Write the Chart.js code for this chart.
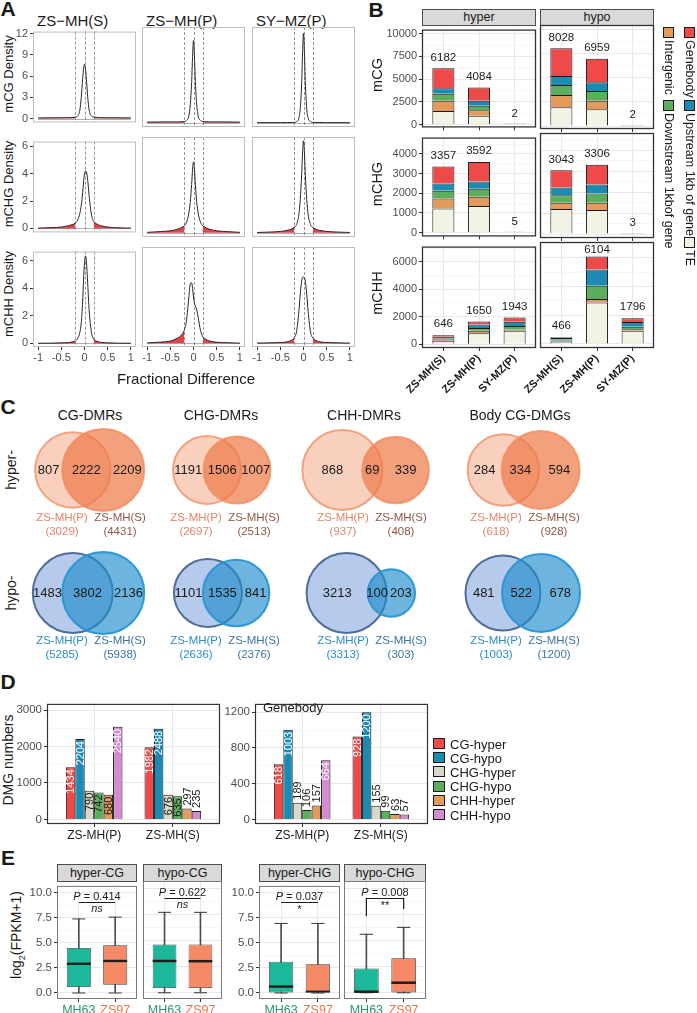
<!DOCTYPE html>
<html>
<head>
<meta charset="utf-8">
<script src="https://cdn.jsdelivr.net/npm/chart.js@4.4.1/dist/chart.umd.min.js"></script>
<style>
  body { margin: 0; background: #fff; }
  #fig { position: relative; width: 697px; height: 1013px; overflow: hidden;
         font-family: 'Liberation Sans', Arial, Helvetica, sans-serif; color: #1a1a1a; }
  #fig canvas { position: absolute; }
  .t { position: absolute; white-space: nowrap; line-height: 1; }
  .sq { position: absolute; box-sizing: border-box; border: 1.3px solid #1a1a1a; }
  .strip { position: absolute; box-sizing: border-box; background: #d9d9d9; border: 1px solid #4d4d4d;
           text-align: center; color: #1a1a1a; }
</style>
</head>
<body>
<div id="fig"></div>
<script>
/* =====================================================
   DMR / DMG FIGURE — panels A to E drawn with Chart.js
   ===================================================== */

/* ─── PANEL A: DENSITY OF FRACTIONAL DIFFERENCE ─── */
const DENS_X  = [-1, -0.7, -0.5, -0.35, -0.25, -0.2, -0.15, -0.1, -0.07, -0.04, -0.02, 0,
                 0.02, 0.04, 0.07, 0.1, 0.15, 0.2, 0.25, 0.35, 0.5, 0.7, 1];
const MCG_S   = [0.08, 0.1, 0.1, 0.12, 0.15, 0.2, 0.35, 1.2, 3.0, 5.6, 7.0, 7.7, 7.1, 5.7, 3.0, 1.2, 0.35, 0.2, 0.15, 0.12, 0.1, 0.1, 0.08];
const MCG_P   = [0.08, 0.1, 0.1, 0.1, 0.12, 0.15, 0.3, 0.9, 2.3, 5.2, 8.5, 10.6, 8.6, 5.3, 2.3, 0.9, 0.3, 0.15, 0.12, 0.1, 0.1, 0.1, 0.08];
const MCG_SY  = [0.01, 0.01, 0.01, 0.02, 0.03, 0.05, 0.15, 0.6, 1.8, 5.0, 9.0, 11.5, 9.0, 5.0, 1.8, 0.6, 0.15, 0.05, 0.03, 0.02, 0.01, 0.01, 0.01];
const MCHG_S  = [0.02, 0.06, 0.1, 0.2, 0.3, 0.38, 0.6, 1.1, 1.7, 2.6, 3.4, 4.0, 4.2, 4.15, 3.5, 2.4, 1.0, 0.5, 0.35, 0.2, 0.1, 0.05, 0.02];
const MCHG_P  = [0.02, 0.07, 0.12, 0.22, 0.35, 0.45, 0.7, 1.3, 2.0, 3.2, 4.2, 4.7, 4.2, 3.2, 2.0, 1.3, 0.7, 0.45, 0.35, 0.22, 0.12, 0.07, 0.02];
const MCHG_SY = [0.01, 0.04, 0.08, 0.15, 0.25, 0.35, 0.55, 1.2, 2.2, 3.8, 5.3, 6.1, 5.3, 3.8, 2.2, 1.2, 0.55, 0.35, 0.25, 0.15, 0.08, 0.04, 0.01];
const MCHH_S  = [0.01, 0.02, 0.04, 0.06, 0.12, 0.18, 0.35, 0.8, 1.5, 3.0, 4.6, 5.9, 6.35, 6.0, 4.3, 2.4, 0.8, 0.3, 0.18, 0.08, 0.04, 0.02, 0.01];
const MCHH_P  = [0.02, 0.08, 0.15, 0.35, 0.6, 0.9, 1.6, 3.2, 4.1, 4.2, 3.8, 3.2, 2.8, 2.6, 2.3, 1.8, 0.9, 0.45, 0.3, 0.15, 0.07, 0.04, 0.01];
const MCHH_SY = [0.01, 0.03, 0.05, 0.1, 0.22, 0.38, 0.8, 2.2, 3.4, 4.3, 4.55, 4.6, 4.55, 4.3, 3.4, 2.2, 0.8, 0.38, 0.22, 0.1, 0.05, 0.03, 0.01];
const CUTOFFS = [-0.2, 0, 0.2];
const A_COLS  = ['ZS−MH(S)', 'ZS−MH(P)', 'SY−MZ(P)'];
const A_ROWS  = ['mCG Density', 'mCHG Density', 'mCHH Density'];
const A_XTICKS = [-1, -0.5, 0, 0.5, 1];
const A_YTICKS = [[0, 3, 6, 9, 12], [0, 2, 4, 6], [0, 2, 4, 6]];

/* ─── PANEL B: DMR COUNTS BY FEATURE (segments bottom → top) ─── */
const B_SAMPLES  = ['ZS-MH(S)', 'ZS-MH(P)', 'SY-MZ(P)'];
const B_FEATURES = ['TE', 'Intergenic', 'Downstream 1kbof gene', 'Upstream 1kb of gene', 'Genebody'];
const CG_HYPER   = [[1480, 1135, 765, 620, 2182], [960, 620, 490, 545, 1469], [2, 0, 0, 0, 0]];
const CG_HYPO    = [[1930, 1270, 1036, 929, 2863], [1725, 890, 1001, 899, 2444], [2, 0, 0, 0, 0]];
const CHG_HYPER  = [[1224, 506, 400, 360, 867], [1350, 474, 400, 376, 992], [5, 0, 0, 0, 0]];
const CHG_HYPO   = [[1190, 300, 367, 367, 819], [1143, 347, 448, 429, 939], [3, 0, 0, 0, 0]];
const CHH_HYPER  = [[250, 60, 100, 130, 106], [790, 185, 210, 255, 210], [975, 70, 280, 300, 318]];
const CHH_HYPO   = [[180, 40, 70, 130, 46], [2900, 230, 930, 1140, 904], [930, 95, 180, 328, 263]];
const B_CONTEXTS = ['mCG', 'mCHG', 'mCHH'];
const B_DIRS     = ['hyper', 'hypo'];
const B_YTICKS   = [[0, 2500, 5000, 7500, 10000], [0, 1000, 2000, 3000, 4000], [0, 2000, 4000, 6000]];

/* ─── PANEL C: VENN COUNTS [only P, shared, only S] ─── */
const VENN_SETS  = ['CG-DMRs', 'CHG-DMRs', 'CHH-DMRs', 'Body CG-DMGs'];
const VENN_HYPER = [[807, 2222, 2209], [1191, 1506, 1007], [868, 69, 339], [284, 334, 594]];
const VENN_HYPO  = [[1483, 3802, 2136], [1101, 1535, 841], [3213, 100, 203], [481, 522, 678]];
const VENN_NAMES = ['ZS-MH(P)', 'ZS-MH(S)'];

/* ─── PANEL D: DMG NUMBERS ─── */
const D_SERIES   = ['CG-hyper', 'CG-hypo', 'CHG-hyper', 'CHG-hypo', 'CHH-hyper', 'CHH-hypo'];
const D_GROUPS   = ['ZS-MH(P)', 'ZS-MH(S)'];
const DMG_ALL_P  = [1434, 2204, 790, 742, 680, 2540];
const DMG_ALL_S  = [1982, 2488, 676, 635, 297, 235];
const DMG_BODY_P = [618, 1003, 189, 106, 157, 664];
const DMG_BODY_S = [928, 1200, 155, 99, 63, 57];
const D_YTICKS   = [[0, 1000, 2000, 3000], [0, 400, 800, 1200]];

/* ─── PANEL E: EXPRESSION BOXPLOTS [min, q1, median, q3, max] ─── */
const E_FACETS      = ['hyper-CG', 'hypo-CG', 'hyper-CHG', 'hypo-CHG'];
const E_GENOS       = ['MH63', 'ZS97'];
const BOX_HYPER_CG  = [[0, 0.6, 2.92, 4.5, 7.4], [0, 0.83, 3.2, 4.78, 7.58]];
const BOX_HYPO_CG   = [[0, 0.45, 3.04, 4.62, 7.7], [0, 0.45, 3.02, 4.62, 7.7]];
const BOX_HYPER_CHG = [[0, 0, 0.64, 3.13, 6.95], [0, 0, 0.12, 2.87, 6.95]];
const BOX_HYPO_CHG  = [[0, 0, 0.1, 2.33, 5.6], [0, 0.03, 0.96, 3.3, 6.26]];
const E_PVALS       = ['0.414', '0.622', '0.037', '0.008'];
const E_SIGNIF      = ['ns', 'ns', '*', '**'];
const E_YTICKS      = [0, 2.5, 5, 7.5, 10];

/* ─── STYLE ─── */
const FONT = "'Liberation Sans', Arial, Helvetica, sans-serif";
const FEATURE_COLORS = ['#f2f2e5', '#e29a5d', '#5cae5c', '#1b8bb3', '#ee4a4a'];
const SERIES_COLORS  = ['#ee4a4a', '#1b8bb3', '#d9d9ca', '#5cae5c', '#e29a5d', '#d58ccd'];
const SERIES_TEXT    = ['#fff', '#fff', '#1a1a1a', '#1a1a1a', '#1a1a1a', '#fff'];
const GENO_FILL      = ['#1db79a', '#f68a66'];
const GENO_TEXT      = ['#2a9473', '#ec7548'];

Chart.defaults.font.family = FONT;
Chart.defaults.color = '#4d4d4d';
Chart.defaults.animation = false;
Chart.defaults.responsive = false;
Chart.defaults.maintainAspectRatio = false;
Chart.defaults.devicePixelRatio = 1;
Chart.defaults.plugins.legend.display = false;
Chart.defaults.plugins.tooltip.enabled = false;

const fig = document.getElementById('fig');

/* ─── PLUGINS ─── */
const framePlugin = {
  id: 'frame',
  defaults: { color: null, width: 1 },
  afterDatasetsDraw(chart, args, o) {
    if (!o.color) return;
    const a = chart.chartArea, ctx = chart.ctx;
    ctx.save();
    ctx.strokeStyle = o.color;
    ctx.lineWidth = o.width;
    ctx.strokeRect(a.left + 0.5, a.top + 0.5, a.width - 1, a.height - 1);
    ctx.restore();
  }
};

const cutoffPlugin = {
  id: 'cutoffs',
  defaults: { values: null },
  beforeDatasetsDraw(chart, args, o) {
    if (!o.values) return;
    const { ctx, chartArea: a, scales: { x, y } } = chart;
    ctx.save();
    ctx.strokeStyle = '#b0b0b0';
    ctx.lineWidth = 1;
    const y0 = Math.round(y.getPixelForValue(0)) + 0.5;
    ctx.beginPath();
    ctx.moveTo(x.getPixelForValue(-1), y0);
    ctx.lineTo(x.getPixelForValue(1), y0);
    ctx.stroke();
    ctx.strokeStyle = '#7a7a7a';
    ctx.lineWidth = 0.8;
    ctx.setLineDash([3, 2]);
    o.values.forEach(v => {
      const px = Math.round(x.getPixelForValue(v)) + 0.5;
      ctx.beginPath();
      ctx.moveTo(px, a.top);
      ctx.lineTo(px, a.bottom);
      ctx.stroke();
    });
    ctx.restore();
  }
};

const totalsPlugin = {
  id: 'totals',
  defaults: { show: false },
  afterDatasetsDraw(chart, args, o) {
    if (!o.show) return;
    const { ctx, chartArea: a, scales: { y } } = chart;
    const ds = chart.data.datasets;
    const top = chart.getDatasetMeta(ds.length - 1);
    ctx.save();
    ctx.font = `11.5px ${FONT}`;
    ctx.fillStyle = '#1a1a1a';
    ctx.textAlign = 'center';
    ctx.textBaseline = 'middle';
    top.data.forEach((el, i) => {
      const total = ds.reduce((s, d) => s + d.data[i].y, 0);
      const py = Math.max(y.getPixelForValue(total) - 11, a.top + 8);
      ctx.fillText(String(total), el.x, py);
    });
    ctx.restore();
  }
};

const barTextPlugin = {
  id: 'barText',
  defaults: { colors: null },
  afterDatasetsDraw(chart, args, o) {
    if (!o.colors) return;
    const ctx = chart.ctx;
    ctx.save();
    ctx.font = `11px ${FONT}`;
    ctx.textBaseline = 'middle';
    chart.data.datasets.forEach((ds, di) => {
      chart.getDatasetMeta(di).data.forEach((el, i) => {
        const label = String(ds.data[i].y);
        const inside = el.base - el.y > ctx.measureText(label).width + 2;
        ctx.save();
        ctx.translate(el.x, el.y);
        ctx.rotate(-Math.PI / 2);
        ctx.textAlign = inside ? 'right' : 'left';
        ctx.fillStyle = inside ? o.colors[di] : '#1a1a1a';
        ctx.fillText(label, inside ? -2 : 3, 0.5);
        ctx.restore();
      });
    });
    ctx.restore();
  }
};

const sigPlugin = {
  id: 'sig',
  defaults: { p: null },
  afterDatasetsDraw(chart, args, o) {
    if (!o.p) return;
    const { ctx, scales: { x, y } } = chart;
    const x1 = x.getPixelForValue(1), x2 = x.getPixelForValue(2), xm = (x1 + x2) / 2;
    ctx.save();
    ctx.fillStyle = '#1a1a1a';
    ctx.strokeStyle = '#1a1a1a';
    ctx.lineWidth = 1.2;
    ctx.textBaseline = 'middle';
    ctx.textAlign = 'left';
    ctx.font = `italic 11px ${FONT}`;
    const wP = ctx.measureText('P').width;
    ctx.font = `11px ${FONT}`;
    const rest = ' = ' + o.p;
    const wR = ctx.measureText(rest).width;
    const ty = y.getPixelForValue(9.6);
    const tx = xm - (wP + wR) / 2;
    ctx.font = `italic 11px ${FONT}`;
    ctx.fillText('P', tx, ty);
    ctx.font = `11px ${FONT}`;
    ctx.fillText(rest, tx + wP, ty);
    const ly = Math.round(y.getPixelForValue(9.07)) + 0.5;
    ctx.beginPath();
    if (o.bracket) {
      ctx.moveTo(x1, y.getPixelForValue(7.35));
      ctx.lineTo(x1, ly);
      ctx.lineTo(x2, ly);
      ctx.lineTo(x2, y.getPixelForValue(8.02));
    } else {
      ctx.moveTo(x1, ly);
      ctx.lineTo(x2, ly);
    }
    ctx.stroke();
    ctx.textAlign = 'center';
    ctx.font = (o.s === 'ns' ? 'italic ' : '') + `11px ${FONT}`;
    ctx.fillText(o.s, xm, y.getPixelForValue(o.s === 'ns' ? 8.4 : 8.3));
    ctx.restore();
  }
};

const vennTextPlugin = {
  id: 'vennText',
  defaults: { items: null },
  afterDatasetsDraw(chart, args, o) {
    if (!o.items) return;
    const { ctx, scales: { x, y } } = chart;
    ctx.save();
    ctx.textAlign = 'center';
    ctx.textBaseline = 'middle';
    o.items.forEach(it => {
      ctx.font = `${it.size}px ${FONT}`;
      ctx.fillStyle = it.color;
      ctx.fillText(it.text, x.getPixelForValue(it.x), y.getPixelForValue(it.y));
    });
    ctx.restore();
  }
};

Chart.register(framePlugin, cutoffPlugin, totalsPlugin, barTextPlugin, sigPlugin, vennTextPlugin);

/* ─── HELPERS ─── */
function canvasFor(rect, m) {
  const c = document.createElement('canvas');
  const w = rect.w + m.l + m.r, h = rect.h + m.t + m.b;
  c.width = w;
  c.height = h;
  Object.assign(c.style, { left: (rect.x - m.l) + 'px', top: (rect.y - m.t) + 'px', width: w + 'px', height: h + 'px' });
  fig.appendChild(c);
  return c;
}

function txt(html, x, y, o = {}) {
  const d = document.createElement('div');
  d.className = 't';
  d.innerHTML = html;
  Object.assign(d.style, {
    left: x + 'px', top: y + 'px',
    fontSize: (o.size || 12) + 'px',
    color: o.color || '#1a1a1a',
    fontWeight: o.bold ? 'bold' : 'normal',
    transform: `translate(${o.left ? '0' : '-50%'}, ${o.vertical ? '0' : '-50%'})` + (o.rot ? ` rotate(${o.rot}deg)` : ''),
  });
  if (o.vertical) d.style.writingMode = 'vertical-rl';
  fig.appendChild(d);
  return d;
}

function square(x, y, w, h, color) {
  const d = document.createElement('div');
  d.className = 'sq';
  Object.assign(d.style, { left: x + 'px', top: y + 'px', width: w + 'px', height: h + 'px', background: color });
  fig.appendChild(d);
}

function strip(label, x, y, w, h, size) {
  const d = document.createElement('div');
  d.className = 'strip';
  d.textContent = label;
  Object.assign(d.style, { left: x + 'px', top: y + 'px', width: w + 'px', height: h + 'px',
                           lineHeight: (h - 2) + 'px', fontSize: size + 'px' });
  fig.appendChild(d);
}

function yScale(o) {
  const minors = [];
  if (o.grid) {
    const step = o.majors[1] - o.majors[0];
    o.majors.forEach(v => { if (v + step / 2 < o.max) minors.push(v + step / 2); });
  }
  const all = [...o.majors, ...minors].sort((a, b) => a - b);
  const major = v => o.majors.includes(v);
  return {
    type: 'linear', min: o.min, max: o.max,
    afterBuildTicks: s => { s.ticks = all.map(v => ({ value: v })); },
    afterFit: s => { s.width = o.show ? o.L : 0; },
    border: { display: false },
    grid: {
      drawOnChartArea: !!o.grid,
      drawTicks: !!o.show,
      tickLength: 3,
      lineWidth: c => major(c.tick.value) ? 1 : 0.6,
      color: c => major(c.tick.value) ? '#e8e8e8' : '#f1f1f1',
      tickColor: c => major(c.tick.value) ? '#333' : 'rgba(0,0,0,0)',
    },
    ticks: {
      display: !!o.show, autoSkip: false, padding: 2, color: '#4d4d4d',
      font: { size: o.size || 11 },
      callback: v => major(v) ? (o.fmt ? o.fmt(v) : String(v)) : '',
    },
  };
}

function xScale(o) {
  return {
    type: 'linear', min: o.min, max: o.max, offset: false,
    afterBuildTicks: s => { s.ticks = o.ticks.map(v => ({ value: v })); },
    afterFit: s => { s.height = o.show ? o.B : (o.marks ? 3 : 0); },
    border: { display: false },
    grid: { offset: false, drawOnChartArea: !!o.grid, drawTicks: !!o.marks, tickLength: 3,
            color: '#e8e8e8', tickColor: '#333' },
    ticks: {
      display: !!o.show, autoSkip: false, maxRotation: o.rot || 0, minRotation: o.rot || 0,
      padding: 1, color: o.color || '#4d4d4d', font: o.font || { size: 11 },
      callback: o.label || (v => String(v)),
    },
  };
}

/* ─── PANEL A ─── */
const A_DENS   = [[MCG_S, MCG_P, MCG_SY], [MCHG_S, MCHG_P, MCHG_SY], [MCHH_S, MCHH_P, MCHH_SY]];
const A_COL_X  = [33, 142, 252];
const A_ROW_Y  = [27, 137, 247];
const A_YRANGE = [[-0.55, 12.3], [-0.29, 6.35], [-0.26, 6.67]];

function renderDensity(r, c) {
  const pts = DENS_X.map((x, i) => ({ x, y: A_DENS[r][c][i] }));
  const showY = c === 0, showX = r === 2;
  const rect = { x: A_COL_X[c], y: A_ROW_Y[r], w: 103, h: 100 };
  const m = { l: showY ? 28 : 8, r: 8, t: 4, b: showX ? 20 : 4 };
  const tail = { borderWidth: 0, backgroundColor: '#e5434a', fill: 'origin', pointRadius: 0,
                 cubicInterpolationMode: 'monotone' };
  new Chart(canvasFor(rect, m), {
    type: 'line',
    data: {
      datasets: [
        { data: pts, borderColor: '#262626', borderWidth: 1, pointRadius: 0, fill: false,
          cubicInterpolationMode: 'monotone' },
        { ...tail, data: pts.filter(p => p.x <= CUTOFFS[0]) },
        { ...tail, data: pts.filter(p => p.x >= CUTOFFS[2]) },
      ]
    },
    options: {
      layout: { autoPadding: false,
                padding: { left: m.l - (showY ? 24 : 0), right: m.r, top: m.t, bottom: m.b - (showX ? 16 : 0) } },
      scales: {
        x: xScale({ min: -1.11, max: 1.11, ticks: A_XTICKS, show: showX, marks: showX, B: 16,
                    font: { size: 11 }, label: v => String(v) }),
        y: yScale({ min: A_YRANGE[r][0], max: A_YRANGE[r][1], majors: A_YTICKS[r], show: showY, L: 24 }),
      },
      plugins: { frame: { color: '#bdbdbd' }, cutoffs: { values: CUTOFFS } }
    }
  });
}

/* ─── PANEL B ─── */
const B_DATA   = [[CG_HYPER, CG_HYPO], [CHG_HYPER, CHG_HYPO], [CHH_HYPER, CHH_HYPO]];
const B_COL_X  = [422, 540];
const B_ROW_Y  = [25, 133, 242];
const B_ROW_H  = [104, 105, 106];
const B_YRANGE = [[-310, 10444], [-191, 4828], [-279, 7108]];

function renderStacked(r, c) {
  const facet = B_DATA[r][c];
  const showY = c === 0, showX = r === 2;
  const rect = { x: B_COL_X[c], y: B_ROW_Y[r], w: 114, h: B_ROW_H[r] };
  const m = { l: showY ? 49 : 46, r: 4, t: 4, b: showX ? 52 : 7 };
  const datasets = B_FEATURES.map((f, fi) => ({
    label: f,
    data: B_SAMPLES.map((s, si) => ({ x: si + 1, y: facet[si][fi] })),
    backgroundColor: FEATURE_COLORS[fi],
    borderColor: '#1a1a1a',
    borderWidth: 1,
    barPercentage: 0.62,
    categoryPercentage: 1,
    minBarLength: fi === 0 ? 1 : 0,
  }));
  new Chart(canvasFor(rect, m), {
    type: 'bar',
    data: { datasets },
    options: {
      layout: { autoPadding: false,
                padding: { left: m.l - (showY ? 45 : 0), right: m.r, top: m.t, bottom: m.b - (showX ? 48 : 3) } },
      scales: {
        x: { ...xScale({ min: 0.4, max: 3.6, ticks: [1, 2, 3], show: showX, marks: true, grid: true, B: 48, rot: 45,
                         color: '#1a1a1a', font: { size: 11, weight: 'bold' }, label: v => B_SAMPLES[v - 1] }),
             stacked: true },
        y: { ...yScale({ min: B_YRANGE[r][0], max: B_YRANGE[r][1], majors: B_YTICKS[r], show: showY, L: 45, grid: true }),
             stacked: true },
      },
      plugins: { frame: { color: '#333', width: 1.3 }, totals: { show: true } }
    }
  });
}

/* ─── PANEL C: VENN DIAGRAMS AS BUBBLES ─── */
const VENN_X = [88, 222, 369, 522];   // diagram centres (layout)
const VENN_Y = [470, 593];            // row centres (layout)
const VENN_R = [41, 34, 40, 39];      // radius of the larger circle per column (layout)

function vennGeom(counts, col) {
  const nP = counts[0] + counts[1], nS = counts[1] + counts[2];
  const big = Math.max(nP, nS);
  const rP = VENN_R[col] * Math.pow(nP / big, 0.22);
  const rS = VENN_R[col] * Math.pow(nS / big, 0.22);
  const f = counts[1] / Math.min(nP, nS);
  const d = rP + rS - 2 * Math.min(rP, rS) * (0.2 + 0.6 * f);
  return { nP, nS, rP, rS, cP: VENN_X[col] - d / 2, cS: VENN_X[col] + d / 2 };
}

function renderVenns() {
  const rect = { x: 0, y: 420, w: 697, h: 245 };
  const rows = [
    { counts: VENN_HYPER, y: VENN_Y[0],
      pStyle: { backgroundColor: 'rgba(242,150,110,0.45)', borderColor: 'rgba(240,158,122,0.95)' },
      sStyle: { backgroundColor: 'rgba(238,120,70,0.7)', borderColor: 'rgba(240,140,95,0.8)' },
      names: ['#e4826a', '#8f5547'] },
    { counts: VENN_HYPO, y: VENN_Y[1],
      pStyle: { backgroundColor: 'rgba(110,150,215,0.5)', borderColor: '#4f6d99' },
      sStyle: { backgroundColor: 'rgba(30,140,205,0.65)', borderColor: 'rgba(40,150,212,0.95)' },
      names: ['#2c8cc4', '#3a74a0'] },
  ];
  const datasets = [], items = [];
  rows.forEach(row => {
    const P = [], S = [];
    row.counts.forEach((counts, col) => {
      const g = vennGeom(counts, col);
      P.push({ x: g.cP, y: row.y, r: g.rP });
      S.push({ x: g.cS, y: row.y, r: g.rS });
      const regions = [
        ((g.cP - g.rP) + (g.cS - g.rS)) / 2,
        ((g.cS - g.rS) + (g.cP + g.rP)) / 2,
        ((g.cP + g.rP) + (g.cS + g.rS)) / 2,
      ];
      counts.forEach((n, k) => items.push({ text: String(n), x: regions[k], y: row.y, size: 13, color: '#1a1a1a' }));
      const nameY = row.y + 48;
      [g.nP, g.nS].forEach((n, k) => {
        const nx = VENN_X[col] + (k ? 32 : -26);
        items.push({ text: VENN_NAMES[k], x: nx, y: nameY, size: 11.5, color: row.names[k] });
        items.push({ text: `(${n})`, x: nx, y: nameY + 14, size: 11.5, color: row.names[k] });
      });
    });
    datasets.unshift({ data: P, borderWidth: 2, ...row.pStyle });
    datasets.unshift({ data: S, borderWidth: 2, ...row.sStyle });
  });
  new Chart(canvasFor(rect, { l: 0, r: 0, t: 0, b: 0 }), {
    type: 'bubble',
    data: { datasets },
    options: {
      layout: { autoPadding: false, padding: 0 },
      scales: {
        x: { type: 'linear', display: false, min: 0, max: 697 },
        y: { type: 'linear', display: false, min: 420, max: 665, reverse: true },
      },
      plugins: { vennText: { items } }
    }
  });
}

/* ─── PANEL D ─── */
function renderDmg(idx, P, S) {
  const rect = [{ x: 47, y: 699, w: 173, h: 125 }, { x: 255, y: 699, w: 173, h: 125 }][idx];
  const yr = [[-125, 3170], [-50, 1293]][idx];
  const L = idx ? 36 : 40;
  const m = { l: L + 4, r: 6, t: 4, b: 22 };
  const datasets = D_SERIES.map((s, i) => ({
    label: s,
    data: [{ x: 1, y: P[i] }, { x: 2, y: S[i] }],
    backgroundColor: SERIES_COLORS[i],
    borderColor: '#1a1a1a',
    borderWidth: 1,
    barPercentage: 1,
    categoryPercentage: 0.72,
  }));
  new Chart(canvasFor(rect, m), {
    type: 'bar',
    data: { datasets },
    options: {
      layout: { autoPadding: false, padding: { left: 4, right: m.r, top: m.t, bottom: 4 } },
      scales: {
        x: xScale({ min: 0.4, max: 2.6, ticks: [1, 2], show: true, marks: true, grid: true, B: 18,
                    color: '#1a1a1a', font: { size: 12 }, label: v => D_GROUPS[v - 1] }),
        y: yScale({ min: yr[0], max: yr[1], majors: D_YTICKS[idx], show: true, L, grid: true, size: 11.5 }),
      },
      plugins: { frame: { color: '#333', width: 1.2 }, barText: { colors: SERIES_TEXT } }
    }
  });
}

/* ─── PANEL E ─── */
const E_BOXES = [BOX_HYPER_CG, BOX_HYPO_CG, BOX_HYPER_CHG, BOX_HYPO_CHG];
const E_X = [57, 143, 259, 344];
const E_W = [80, 79, 81, 82];

function renderBox(k) {
  const stats = E_BOXES[k];
  const showY = k === 0 || k === 2;
  const rect = { x: E_X[k], y: 881, w: E_W[k], h: 118 };
  const m = { l: showY ? 34 : 6, r: 6, t: 4, b: 20 };
  const at = f => stats.map((s, i) => ({ x: i + 1, y: f(s) }));
  const datasets = [
    { data: at(s => [s[2] - 0.12, s[2] + 0.12]), backgroundColor: '#1f1f1f', barPercentage: 0.66 },
    { data: at(s => [s[1], s[3]]), backgroundColor: GENO_FILL, borderColor: '#3a3a3a', borderWidth: 0.8,
      borderSkipped: false, barPercentage: 0.66 },
    { data: at(s => [s[4] - 0.05, s[4] + 0.05]), backgroundColor: '#3a3a3a', barPercentage: 0.36 },
    { data: at(s => [s[0] - 0.05, s[0] + 0.05]), backgroundColor: '#3a3a3a', barPercentage: 0.36 },
    { data: at(s => [s[0], s[4]]), backgroundColor: '#4d4d4d', barThickness: 1 },
  ].map(d => ({ ...d, grouped: false, categoryPercentage: 1 }));
  new Chart(canvasFor(rect, m), {
    type: 'bar',
    data: { datasets },
    options: {
      layout: { autoPadding: false, padding: { left: m.l - (showY ? 30 : 0), right: m.r, top: m.t, bottom: 4 } },
      scales: {
        x: xScale({ min: 0.4, max: 2.6, ticks: [1, 2], show: true, marks: true, grid: true, B: 16,
                    color: c => GENO_TEXT[c.index], font: { size: 12.5 }, label: v => E_GENOS[v - 1] }),
        y: yScale({ min: -0.6, max: 10.7, majors: E_YTICKS, show: showY, L: 30, grid: true, size: 11.5,
                    fmt: v => v.toFixed(1) }),
      },
      plugins: { frame: { color: '#7a7a7a', width: 1 },
                 sig: { p: E_PVALS[k], s: E_SIGNIF[k], bracket: k === 3 } }
    }
  });
}

/* ─── BUILD ─── */
// panel letters
[['A', 8, 8], ['B', 376, 9], ['C', 8, 406], ['D', 8, 681], ['E', 8, 857]]
  .forEach(([l, x, y]) => txt(l, x, y, { size: 21, bold: true }));

// A
A_COLS.forEach((t, c) => txt(t, A_COL_X[c] + 4, 20, { size: 15, left: true }));
A_ROWS.forEach((t, r) => txt(t, 8, A_ROW_Y[r] + 47, { size: 13, rot: -90 }));
for (let r = 0; r < 3; r++) for (let c = 0; c < 3; c++) renderDensity(r, c);
txt('Fractional Difference', 186, 378, { size: 15 });

// B
B_DIRS.forEach((d, c) => strip(d, B_COL_X[c], 9, 114, 17, 12.5));
B_CONTEXTS.forEach((t, r) => txt(t, 377, B_ROW_Y[r] + B_ROW_H[r] / 2 - 2, { size: 14.5, rot: -90 }));
for (let r = 0; r < 3; r++) for (let c = 0; c < 2; c++) renderStacked(r, c);
// legend: rotated entries, Genebody/Intergenic, Upstream/Downstream, TE
[[4, 684, 27], [1, 663, 27], [3, 684, 100], [2, 663, 100], [0, 684, 237]].forEach(([fi, x, y]) => {
  square(x, y, 11, 11, FEATURE_COLORS[fi]);
  txt(B_FEATURES[fi], x + 5.5, y + 13, { size: 12.5, vertical: true });
});

// C
VENN_SETS.forEach((t, i) => txt(t, [90, 221, 364, 520][i], 415, { size: 14 }));
txt('hyper-', 11, VENN_Y[0], { size: 14, rot: -90 });
txt('hypo-', 11, VENN_Y[1], { size: 14, rot: -90 });
renderVenns();

// D
txt('DMG numbers', 8, 760, { size: 14, rot: -90 });
renderDmg(0, DMG_ALL_P, DMG_ALL_S);
renderDmg(1, DMG_BODY_P, DMG_BODY_S);
txt('Genebody', 263, 707, { size: 13, left: true });
D_SERIES.forEach((s, i) => {
  const y = 738 + i * 14.2;
  square(433, y, 12, 11, SERIES_COLORS[i]);
  txt(s, 450, y + 5.5, { size: 13, left: true });
});

// E
E_FACETS.forEach((f, k) => strip(f, E_X[k], 864, E_W[k], 18, 12.5));
txt('log<sub style="font-size:9px">2</sub>(FPKM+1)', 18, 935, { size: 14, rot: -90 });
for (let k = 0; k < 4; k++) renderBox(k);
</script>
</body>
</html>
